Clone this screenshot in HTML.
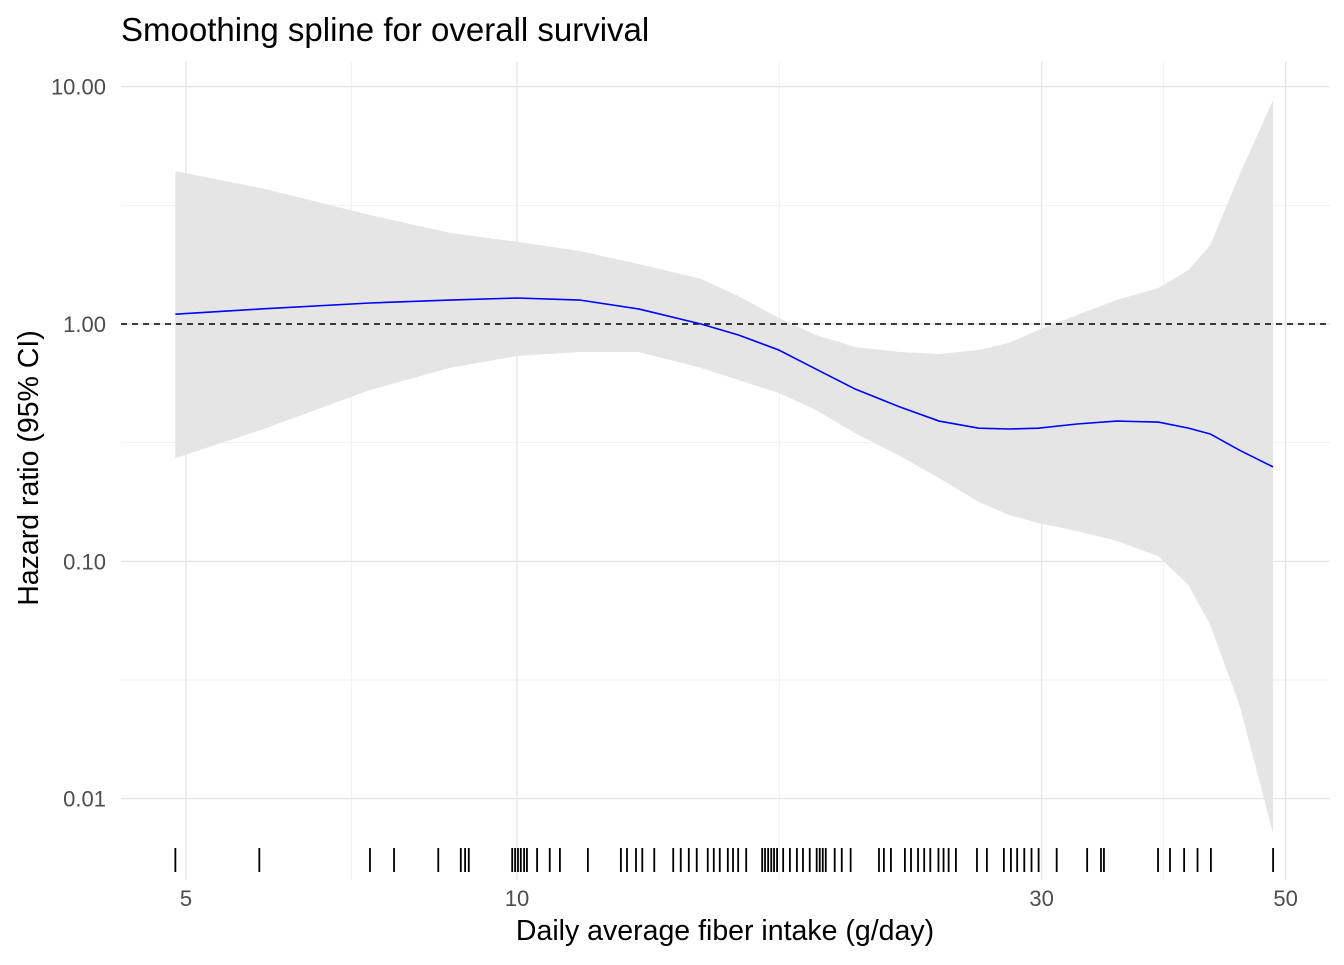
<!DOCTYPE html>
<html><head><meta charset="utf-8"><style>
body{margin:0;background:#fff;font-family:"Liberation Sans",Arial,sans-serif}
svg text{font-family:"Liberation Sans",Arial,sans-serif}
</style></head><body>
<svg id="chart" width="1344" height="960" viewBox="0 0 1344 960">
<text x="121" y="41" font-size="33" fill="#000">Smoothing spline for overall survival</text>
<g id="grid"></g>
<g id="ribbon"></g>
<g id="ref"></g>
<g id="fitg"></g>
<g id="rug"></g>
<g id="axes"></g>
<text x="725" y="940" font-size="28.5" text-anchor="middle" fill="#000">Daily average fiber intake (g/day)</text>
<text transform="translate(38,468) rotate(-90)" font-size="28.5" text-anchor="middle" fill="#000">Hazard ratio (95% CI)</text>
</svg>
<script>
const xTicks=[5,10,30,50];
const xMinor=[7.07,17.32,38.73];
const yTicks=[10,1,0.1,0.01];
const yTickLabels=["10.00","1.00","0.10","0.01"];
const yMinor=[3.162,0.3162,0.03162];
const fiber=[4.89,5.85,7.35,8.69,10.0,11.4,12.9,14.7,15.9,17.3,18.7,20.3,22.3,24.2,26.3,28.0,29.8,32.3,35.1,38.3,40.8,42.7,45.4,48.7];
const hrFit=[1.10,1.157,1.226,1.262,1.287,1.262,1.157,1.0,0.899,0.777,0.646,0.532,0.447,0.390,0.364,0.361,0.364,0.379,0.390,0.386,0.364,0.344,0.294,0.250];
const hrUpper=[4.41,3.74,2.88,2.42,2.22,2.03,1.79,1.55,1.31,1.06,0.899,0.80,0.762,0.747,0.777,0.832,0.943,1.091,1.262,1.418,1.689,2.15,4.25,8.79];
const hrLower=[0.272,0.358,0.527,0.653,0.733,0.762,0.762,0.653,0.581,0.512,0.434,0.347,0.278,0.224,0.178,0.157,0.145,0.134,0.122,0.105,0.0795,0.0539,0.0248,0.00716];
const rugValues=[4.89,5.83,7.35,7.73,8.48,8.89,8.97,9.04,9.90,9.96,10.02,10.08,10.15,10.21,10.43,10.71,10.94,11.60,12.43,12.59,12.83,13.00,13.33,13.87,14.09,14.33,14.57,14.91,15.10,15.29,15.55,15.72,15.89,16.16,16.71,16.81,16.92,17.03,17.13,17.24,17.46,17.71,17.97,18.20,18.46,18.73,18.85,18.97,19.09,19.45,19.74,20.11,21.34,21.56,21.88,22.53,22.82,23.16,23.46,23.76,24.17,24.43,24.69,25.07,26.20,26.75,27.72,28.13,28.50,28.93,29.37,29.81,30.96,33.00,33.97,34.18,38.28,39.25,40.43,41.58,42.76,48.71];

const NS="http://www.w3.org/2000/svg";
const PL=121,PR=1330,PT=62,PB=880;
const X=v=>517+(Math.log10(v)-1)*1099.6;
const Y=v=>324-Math.log10(v)*237.3;
function mk(tag,parent,attrs){const e=document.createElementNS(NS,tag);for(const k in attrs)e.setAttribute(k,attrs[k]);parent.appendChild(e);return e;}
const grid=document.getElementById('grid'),axes=document.getElementById('axes');
yMinor.forEach(v=>{const l=mk('line',grid,{x1:PL,x2:PR,y1:Y(v),y2:Y(v),stroke:'#f0f0f0','stroke-width':1});

});
xMinor.forEach(v=>{const l=mk('line',grid,{x1:X(v),x2:X(v),y1:PT,y2:PB,stroke:'#f0f0f0','stroke-width':1});

});
yTicks.forEach((v,i)=>{const l=mk('line',grid,{x1:PL,x2:PR,y1:Y(v),y2:Y(v),stroke:'#e6e6e6','stroke-width':1.4});


const t=mk('text',axes,{x:106,y:Y(v)+8,'font-size':22,'text-anchor':'end',fill:'#4d4d4d'});t.textContent=yTickLabels[i];

});
xTicks.forEach(v=>{const l=mk('line',grid,{x1:X(v),x2:X(v),y1:PT,y2:PB,stroke:'#e6e6e6','stroke-width':1.4});


const t=mk('text',axes,{x:X(v),y:906,'font-size':22,'text-anchor':'middle',fill:'#4d4d4d'});t.textContent=String(v);

});
let d='M'+fiber.map((f,i)=>X(f)+','+Y(hrUpper[i])).join('L');
for(let i=fiber.length-1;i>=0;i--)d+='L'+X(fiber[i])+','+Y(hrLower[i]);
const rib=mk('path',document.getElementById('ribbon'),{d:d+'Z',fill:'#e5e5e5'});


const rl=mk('line',document.getElementById('ref'),{x1:PL,x2:PR,y1:Y(1),y2:Y(1),stroke:'#000','stroke-width':1.4,'stroke-dasharray':'6,5'});


const fl=mk('polyline',document.getElementById('fitg'),{points:fiber.map((f,i)=>X(f)+','+Y(hrFit[i])).join(' '),fill:'none',stroke:'#0000ff','stroke-width':1.6});


const rug=document.getElementById('rug');
rugValues.forEach(v=>{const l=mk('line',rug,{x1:X(v),x2:X(v),y1:848,y2:872,stroke:'#000','stroke-width':1.8});

});
</script>
</body></html>
